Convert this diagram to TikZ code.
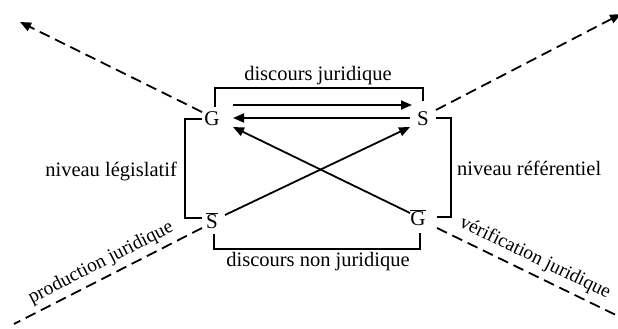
\documentclass[tikz,border=0pt]{standalone}
\usepackage{fontspec}
\setmainfont{Liberation Serif}
\usetikzlibrary{arrows.meta,calc}
\begin{document}
\begin{tikzpicture}[x=1pt,y=-1pt,
  ln/.style={line width=1.8pt},
  arr/.style={line width=1.8pt,-{Triangle[length=11pt,width=9pt]}},
  dsh/.style={line width=1.8pt,dash pattern=on 11pt off 6pt},
  lt/.style={font=\fontsize{21}{23}\selectfont,inner sep=1pt},
  lbl/.style={font=\fontsize{20.5}{22}\selectfont,inner sep=1pt},
  rlbl/.style={font=\fontsize{19.5}{21}\selectfont,inner sep=1pt}]
\useasboundingbox (0,0) rectangle (618,329);
\node[lt] (G) at (212,119) {G};
\node[lt] (S) at (423,119) {S};
\node[lt] (Sb) at (212,221) {$\overline{\mbox{S}}$};
\node[lt] (Gb) at (418,218) {$\overline{\mbox{G}}$};
% brackets
\draw[ln] ($(G)+(3,-12)$) -- ($(G)+(3,-31)$) -| ($(S)+(0,-18)$);
\draw[ln] ($(G)+(-10,0)$) -- ($(G)+(-27,0)$) |- ($(Sb)+(-10,-3)$);
\draw[ln] ($(S)+(13,-1)$) -- ($(S)+(28,-1)$) |- ($(Gb)+(19,-1)$);
\draw[ln] ($(Sb)+(2,13)$) -- ($(Sb)+(2,28)$) -| ($(Gb)+(2,15)$);
% arrows
\draw[arr] ($(G)+(21,-14)$) -- ($(S)+(-11,-14)$);
\draw[arr] ($(S)+(-13,-1)$) -- ($(G)+(21,-1)$);
\draw[arr] ($(Sb)+(13,-6)$) -- ($(S)+(-13,8)$);
\draw[arr] ($(Gb)+(-8,-5)$) -- ($(G)+(21,8)$);
% dashed
\coordinate (tl) at (20,22);
\coordinate (tr) at (621,14);
\coordinate (bl) at (14,324);
\coordinate (br) at (620,317);
\draw[dsh,-{Triangle[length=11pt,width=9pt]}] ($(G)+(-10,-7)$) -- (tl);
\draw[dsh,-{Triangle[length=11pt,width=9pt]}] ($(S)+(13,-9)$) -- (tr);
\draw[dsh] ($(Sb)+(-10,7)$) -- (bl);
\draw[dsh] ($(Gb)+(19,10)$) -- (br);
% labels
\node[lbl] (dj) at (318,76) {discours juridique};
\node[lbl] (dnj) at (318,262) {discours non juridique};
\node[lbl,anchor=east] (nl) at (178,171) {niveau législatif};
\node[lbl,anchor=west] (nr) at (456,168) {niveau référentiel};
\node[rlbl,rotate=27] (pj) at (101,263) {production juridique};
\node[rlbl,rotate=-26] (vj) at (535,258) {vérification juridique};
\end{tikzpicture}
\end{document}
